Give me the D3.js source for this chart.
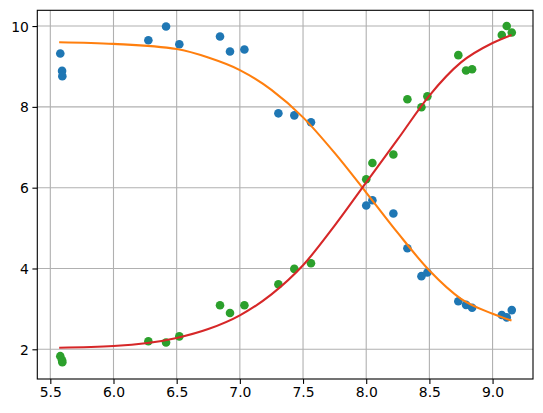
<!DOCTYPE html>
<html>
<head>
  <meta charset="UTF-8">
  <script src="https://d3js.org/d3.v7.min.js"></script>
</head>
<body style="margin:0;background:#fff">
  <svg id="chart"></svg>
<style>
  #chart text {
    font-family: 'DejaVu Sans', sans-serif;
    font-size: 13.9px;
    fill: #000;
  }
</style>
<script type="text/javascript">
  // shared x values for both scatter series
  const xVals = [5.579, 5.593, 5.595, 6.276, 6.416, 6.521, 6.843, 6.922, 7.036, 7.305, 7.431, 7.563,
                 8.0, 8.049, 8.215, 8.326, 8.437, 8.484, 8.729, 8.79, 8.838, 9.073, 9.112, 9.152];
  const blueVals = [9.32, 8.89, 8.76, 9.65, 9.99, 9.55, 9.74, 9.37, 9.42, 7.84, 7.79, 7.62,
                    5.56, 5.69, 5.36, 4.50, 3.81, 3.90, 3.19, 3.10, 3.03, 2.85, 2.79, 2.97];
  const greenVals = [1.83, 1.73, 1.68, 2.20, 2.17, 2.32, 3.09, 2.90, 3.09, 3.61, 3.99, 4.13,
                     6.21, 6.61, 6.82, 8.19, 7.99, 8.26, 9.28, 8.90, 8.93, 9.78, 10.0, 9.84];

  // fitted curves
  const curveX = [5.57, 6.0, 6.5, 6.75, 7.0, 7.25, 7.5, 7.75, 8.0, 8.25, 8.5, 8.75, 9.0, 9.15];
  const orangeCurve = [9.60, 9.56, 9.43, 9.22, 8.91, 8.42, 7.74, 6.86, 5.88, 4.88, 3.95, 3.25, 2.88, 2.71];
  const redCurve = [2.04, 2.08, 2.28, 2.50, 2.84, 3.36, 4.08, 5.06, 6.13, 7.20, 8.28, 9.10, 9.58, 9.78];

  const xTicks = [5.5, 6.0, 6.5, 7.0, 7.5, 8.0, 8.5, 9.0];
  const yTicks = [2, 4, 6, 8, 10];

  const width = 543, height = 413;
  const margin = { top: 10.3, right: 10, bottom: 34, left: 37.3 };

  const svg = d3.select('#chart')
    .attr('width', width)
    .attr('height', height);

  const x = d3.scaleLinear().domain([5.397, 9.32]).range([margin.left, width - margin.right]);
  const y = d3.scaleLinear().domain([1.265, 10.39]).range([height - margin.bottom, margin.top]);

  // grid
  const grid = svg.append('g');
  grid.selectAll('line.gx').data(xTicks).join('line')
    .attr('x1', d => x(d)).attr('x2', d => x(d))
    .attr('y1', margin.top).attr('y2', height - margin.bottom)
    .attr('stroke', '#b0b0b0').attr('stroke-width', 1.1);
  grid.selectAll('line.gy').data(yTicks).join('line')
    .attr('y1', d => y(d)).attr('y2', d => y(d))
    .attr('x1', margin.left).attr('x2', width - margin.right)
    .attr('stroke', '#b0b0b0').attr('stroke-width', 1.1);

  // scatter
  const pts = xVals.map((xv, i) => ({ x: xv, b: blueVals[i], g: greenVals[i] }));
  svg.append('g').selectAll('circle').data(pts).join('circle')
    .attr('cx', d => x(d.x)).attr('cy', d => y(d.b)).attr('r', 4.3)
    .attr('fill', '#1f77b4');
  svg.append('g').selectAll('circle').data(pts).join('circle')
    .attr('cx', d => x(d.x)).attr('cy', d => y(d.g)).attr('r', 4.3)
    .attr('fill', '#2ca02c');

  // curves
  const line = d3.line()
    .x(d => x(d[0]))
    .y(d => y(d[1]))
    .curve(d3.curveMonotoneX);

  svg.append('path')
    .datum(curveX.map((xv, i) => [xv, orangeCurve[i]]))
    .attr('d', line)
    .attr('fill', 'none').attr('stroke', '#ff7f0e').attr('stroke-width', 2.1);
  svg.append('path')
    .datum(curveX.map((xv, i) => [xv, redCurve[i]]))
    .attr('d', line)
    .attr('fill', 'none').attr('stroke', '#d62728').attr('stroke-width', 2.1);

  // axes
  const xAxis = svg.append('g')
    .attr('transform', `translate(0,${height - margin.bottom})`)
    .call(d3.axisBottom(x).tickValues(xTicks).tickFormat(d3.format('.1f')).tickSize(4.9).tickPadding(3.5));
  const yAxis = svg.append('g')
    .attr('transform', `translate(${margin.left},0)`)
    .call(d3.axisLeft(y).tickValues(yTicks).tickFormat(d3.format('d')).tickSize(4.9).tickPadding(3.5));

  [xAxis, yAxis].forEach(ax => {
    ax.select('.domain').remove();
    ax.selectAll('.tick line').attr('stroke', '#000').attr('stroke-width', 1.1);
  });
  yAxis.selectAll('.tick text').attr('dy', '0.36em');

  // frame
  svg.append('rect')
    .attr('x', margin.left).attr('y', margin.top)
    .attr('width', width - margin.left - margin.right)
    .attr('height', height - margin.top - margin.bottom)
    .attr('fill', 'none').attr('stroke', '#000').attr('stroke-width', 1.1);
</script>
</body>
</html>
